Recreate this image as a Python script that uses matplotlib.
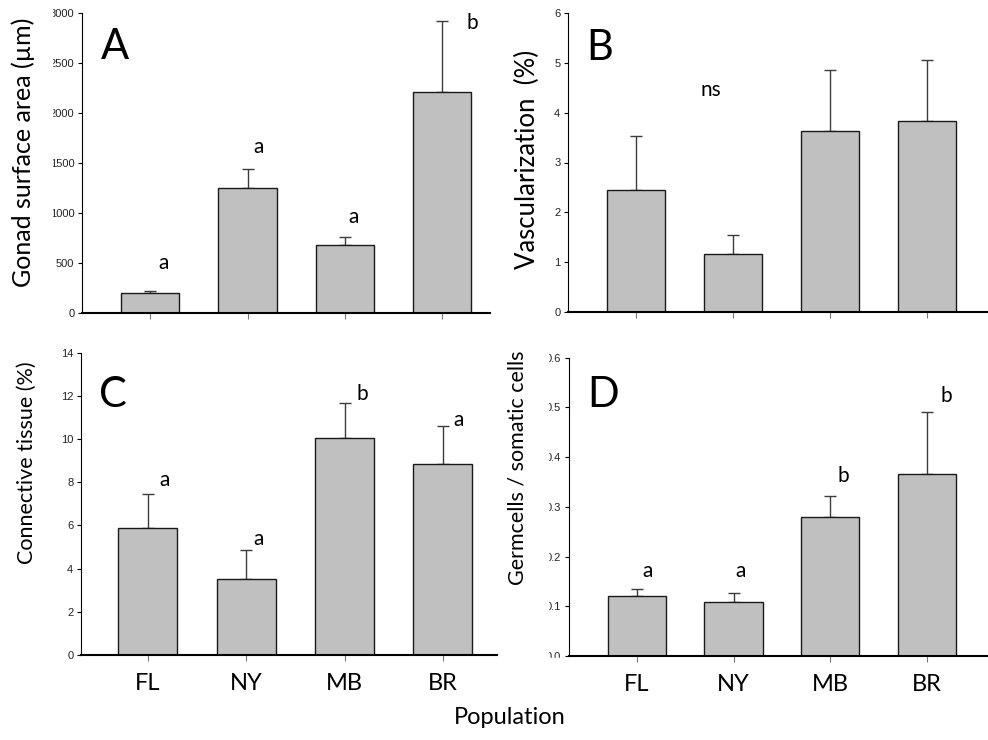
# Vier panelen met staafdiagrammen (A-D) per populatie
import matplotlib.pyplot as plt
from matplotlib.patches import Rectangle

W, H = 988, 740

populaties = ['FL', 'NY', 'MB', 'BR']

# Panel A: gonade oppervlak
gonade = [194, 1244, 677, 2207]
gonade_fout = [26, 190, 80, 710]
gonade_letters = ['a', 'a', 'a', 'b']
gonade_letter_y = [497, 1657, 957, 2897]
gonade_letter_dx = [0.14, 0.11, 0.09, 0.31]

# Panel B: vascularisatie
vasc = [2.44, 1.17, 3.64, 3.84]
vasc_fout = [1.09, 0.38, 1.21, 1.22]

# Panel C: bindweefsel
bindweefsel = [5.89, 3.50, 10.06, 8.86]
bindweefsel_fout = [1.55, 1.37, 1.59, 1.74]
bindweefsel_letters = ['a', 'a', 'b', 'a']
bindweefsel_letter_y = [8.1, 5.37, 12.08, 10.88]
bindweefsel_letter_dx = [0.17, 0.13, 0.18, 0.16]

# Panel D: kiemcellen / somatische cellen
kiemcellen = [0.121, 0.108, 0.280, 0.366]
kiemcellen_fout = [0.013, 0.018, 0.041, 0.124]
kiemcellen_letters = ['a', 'a', 'b', 'b']
kiemcellen_letter_y = [0.171, 0.171, 0.363, 0.522]
kiemcellen_letter_dx = [0.11, 0.07, 0.13, 0.20]

LABEL_FONT = 'Lato'
TICK_FONT = 'Liberation Sans'


def maak_as(fig, links, boven, rechts, onder):
    # pixels omzetten naar figuur-fracties
    return fig.add_axes([links / W, 1 - onder / H, (rechts - links) / W, (onder - boven) / H])


def teken_panel(ax, waarden, fout, ymax, yticks, xlim, categorie_labels=False):
    x = list(range(len(waarden)))
    ax.bar(x, waarden, width=0.6, color='#c0c0c0', edgecolor='#1a1a1a', linewidth=1.0, zorder=2)
    ax.errorbar(x, waarden, yerr=[[0] * len(fout), fout], fmt='none', ecolor='#3c3c3c',
                elinewidth=1.0, capsize=4, capthick=1.0, zorder=1)
    ax.set_ylim(0, ymax)
    ax.set_xlim(*xlim)
    ax.set_yticks(yticks)
    ax.set_xticks(x)
    for kant in ['top', 'right']:
        ax.spines[kant].set_visible(False)
    ax.spines['left'].set_linewidth(0.8)
    ax.spines['bottom'].set_linewidth(1.5)
    ax.tick_params(axis='y', direction='out', length=3, width=0.8, pad=2.5,
                   labelsize=8, labelcolor='#222222')
    ax.tick_params(axis='x', direction='out', length=4, width=0.8, color='#777777', pad=9)
    if categorie_labels:
        ax.set_xticklabels(populaties, fontsize=17, family=LABEL_FONT)
    else:
        ax.set_xticklabels([])


def letters(ax, letters, ys, dxs):
    for i, (l, y, dx) in enumerate(zip(letters, ys, dxs)):
        ax.text(i + dx, y, l, ha='center', va='center', fontsize=15, family=LABEL_FONT)


def main():
    fig = plt.figure(figsize=(W / 100, H / 100), dpi=100)

    ax_a = maak_as(fig, 82, 12.7, 490, 312.7)
    teken_panel(ax_a, gonade, gonade_fout, 3000, range(0, 3001, 500), (-0.70, 3.49))
    ax_a.set_yticklabels(['0', '500', '1000', '1500', '2000', '2500', '3000'])
    letters(ax_a, gonade_letters, gonade_letter_y, gonade_letter_dx)

    ax_b = maak_as(fig, 568, 13, 988, 312)
    teken_panel(ax_b, vasc, vasc_fout, 6, range(0, 7), (-0.70, 3.63))
    ax_b.text(0.77, 4.46, 'ns', ha='center', va='center', fontsize=15, family=LABEL_FONT)

    ax_c = maak_as(fig, 81, 352.7, 497, 655)
    teken_panel(ax_c, bindweefsel, bindweefsel_fout, 14, range(0, 15, 2), (-0.68, 3.55), True)
    letters(ax_c, bindweefsel_letters, bindweefsel_letter_y, bindweefsel_letter_dx)

    ax_d = maak_as(fig, 569, 357.7, 988, 656)
    teken_panel(ax_d, kiemcellen, kiemcellen_fout, 0.6, [0, 0.1, 0.2, 0.3, 0.4, 0.5, 0.6],
                (-0.70, 3.63), True)
    ax_d.set_yticklabels(['0.0', '0.1', '0.2', '0.3', '0.4', '0.5', '0.6'])
    letters(ax_d, kiemcellen_letters, kiemcellen_letter_y, kiemcellen_letter_dx)

    for ax in [ax_a, ax_b, ax_c, ax_d]:
        for lab in ax.get_yticklabels():
            lab.set_family(TICK_FONT)

    # Paneel letters
    for tekst, (x, y) in zip('ABCD', [(115, 47), (600, 48), (113, 395), (603, 395)]):
        fig.text(x / W, 1 - y / H, tekst, ha='center', va='center', fontsize=30, family=LABEL_FONT)

    # As-labels
    ylabels = [('Gonad surface area (\u00b5m)', 23, 152, 18),
               ('Vascularization  (%)', 527, 159, 18.5),
               ('Connective tissue (%)', 27, 463, 15.5),
               ('Germcells / somatic cells', 517, 468, 15.5)]
    for tekst, x, y, grootte in ylabels:
        fig.text(x / W, 1 - y / H, tekst, rotation=90, ha='center', va='center',
                 fontsize=grootte, family=LABEL_FONT)

    fig.text(510 / W, 1 - 717 / H, 'Population', ha='center', va='center', fontsize=17,
             family=LABEL_FONT)

    # afgesneden tick labels zoals in het origineel
    for x0, y0, b, h in [(37, 0, 15, 320), (532, 340, 16, 330), (532, 658, 34, 12)]:
        fig.patches.append(Rectangle((x0 / W, 1 - (y0 + h) / H), b / W, h / H,
                                     transform=fig.transFigure, color='white', zorder=10))

    fig.savefig('out.png', dpi=100)


if __name__ == "__main__":
    main()
